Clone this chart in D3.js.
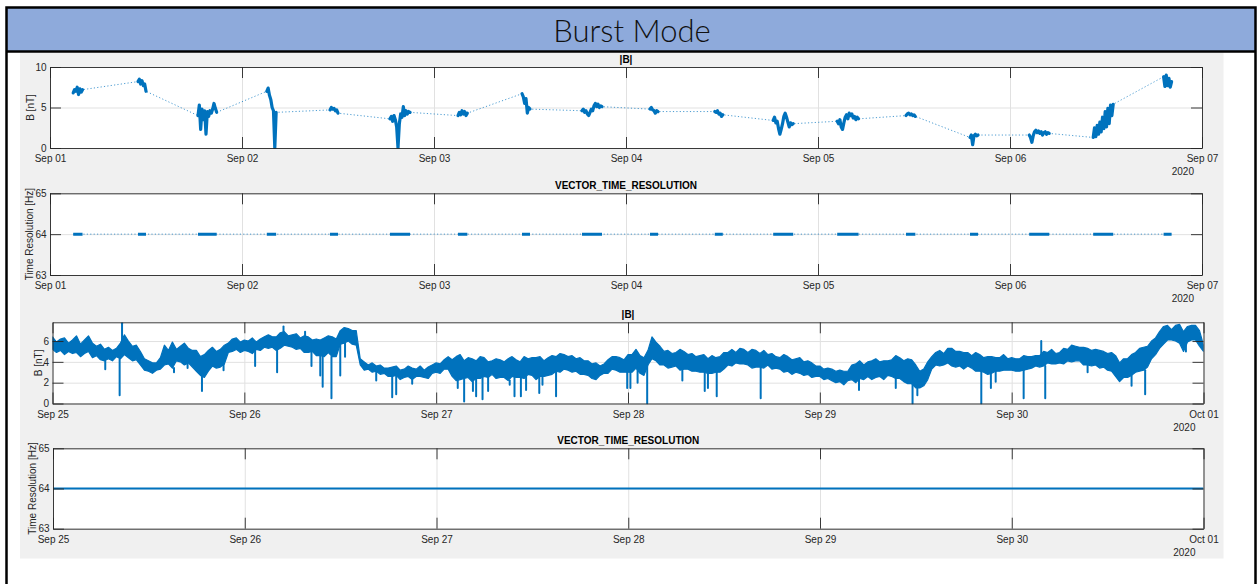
<!DOCTYPE html>
<html><head><meta charset="utf-8">
<script src="https://cdn.jsdelivr.net/npm/d3@7"></script>
<style>
body{margin:0;background:#fff;}
svg{display:block;}
text{font-family:"Liberation Sans",Arial,Helvetica,sans-serif;}
</style>
</head><body>
<svg id="c" width="1259" height="584"></svg>
<script>
// ---------------- DATA ----------------
const pageTitle = "Burst Mode";
const yearLabel = "2020";
const p1Days = ["2020-09-01","2020-09-02","2020-09-03","2020-09-04","2020-09-05","2020-09-06","2020-09-07"];
const p1TickLabels = ["Sep 01","Sep 02","Sep 03","Sep 04","Sep 05","Sep 06","Sep 07"];
const p3Days = ["2020-09-25","2020-09-26","2020-09-27","2020-09-28","2020-09-29","2020-09-30","2020-10-01"];
const p3TickLabels = ["Sep 25","Sep 26","Sep 27","Sep 28","Sep 29","Sep 30","Oct 01"];
const bTicks1 = [0, 5, 10];
const bTicks3 = [0, 2, 4, 6];
const rateTicks = [63, 64, 65];

// Panel 1: burst intervals (start in hours after Sep 01 00:00, samples every 10 min), |B| in nT
const burstStepMin = 10;
const burstStartHours = [2.9, 11.0, 18.5, 27.1, 35.0, 42.5, 51.0, 59.0, 66.5, 75.0, 83.1, 90.4, 98.4, 107.0, 115.0, 122.4, 130.4, 139.2];
const burstB = [
 [6.8, 7.2, 7.0, 7.5, 6.6, 7.3, 6.9, 7.2],
 [8.2, 8.5, 7.9, 8.3, 7.7, 7.9, 7.0],
 [4.0, 5.3, 2.3, 4.8, 3.5, 4.6, 1.7, 4.5, 3.9, 4.6, 4.3, 4.8, 5.5, 4.9, 4.4],
 [7.0, 7.4, 6.5, 6.0, 5.0, 4.6, 0.0, 4.4],
 [4.7, 5.0, 4.8, 4.9, 4.6, 4.7, 4.3],
 [3.6, 3.9, 3.3, 4.0, 3.5, 2.6, 0.0, 3.0, 4.2, 3.8, 5.1, 4.0, 4.6, 4.2, 4.5, 4.4],
 [4.0, 4.4, 4.1, 4.6, 4.2, 4.5, 4.0, 4.3],
 [6.7, 6.3, 5.5, 6.1, 4.3, 5.0, 4.8],
 [4.6, 4.8, 4.4, 4.6, 4.2, 4.0, 4.4, 4.8, 4.6, 5.2, 5.5, 5.1, 5.4, 5.0, 5.2, 5.1],
 [4.8, 5.0, 4.7, 4.6, 4.3, 4.6, 4.5],
 [4.5, 4.4, 4.6, 4.2, 4.3, 3.9, 4.1],
 [3.4, 3.8, 3.1, 3.3, 2.4, 1.7, 2.3, 3.0, 3.9, 4.3, 3.8, 3.2, 2.6, 3.1, 2.9, 3.0],
 [3.3, 3.0, 3.5, 2.6, 2.3, 3.1, 3.8, 4.1, 3.6, 4.3, 4.0, 4.2, 3.7, 3.9, 3.5, 3.8, 3.6],
 [4.0, 4.2, 4.3, 4.1, 4.2, 4.0, 4.1, 3.9],
 [1.3, 1.6, 0.4, 1.5, 1.7, 1.5, 1.6],
 [1.6, 1.3, 0.7, 1.5, 2.0, 2.2, 1.9, 2.1, 1.8, 2.0, 1.6, 1.9, 2.0, 1.7, 1.9, 1.8],
 [1.3, 2.5, 1.4, 2.8, 1.7, 3.2, 2.0, 3.8, 2.4, 4.5, 2.6, 4.9, 3.0, 5.3, 4.0, 5.4],
 [8.8, 7.6, 9.0, 7.7, 8.6, 7.5, 8.2]
];
// Panel 2: vector time resolution of each burst (Hz)
const burstRateHz = [64,64,64,64,64,64,64,64,64,64,64,64,64,64,64,64,64,64];

// Panel 3: continuous |B| envelope, samples every 30 min per day (upper / lower)
const bandStepMin = 30;
const hi25 = [6.4,5.9, 6.2,6.3, 5.8,6.1, 6.5,5.7, 6.1,6.5, 5.8,5.5, 5.7,5.2, 5.4,5.1, 5.3,5.8, 6.6,6.0, 5.5,5.6, 5.0,4.3, 4.1,3.9, 3.9,4.4, 5.6,5.1, 5.9,5.2, 5.5,5.8, 5.3,5.1, 5.1,4.5, 4.7,5.1, 5.4,5.0, 5.2,5.6, 5.8,6.2, 6.3,5.9];
const lo25 = [5.2,4.9, 5.1,4.7, 5.0,4.8, 4.9,4.5, 4.8,5.0, 4.4,4.6, 4.2,4.1, 4.3,4.1, 4.5,4.3, 4.7,4.4, 4.1,4.2, 3.7,3.2, 3.1,2.9, 3.2,3.3, 3.7,3.8, 3.4,4.1, 4.0,3.7, 3.9,3.5, 3.1,2.7, 2.5,3.1, 3.6,3.4, 3.5,3.8, 4.9,5.0, 5.2,4.9];
const hi26 = [6.1,6.0, 6.3,5.9, 6.2,6.4, 6.6,6.4, 6.4,6.8, 6.9,6.5, 6.6,6.7, 6.3,6.5, 6.4,6.1, 6.2,6.1, 6.3,6.5, 6.4,6.2, 7.0,7.3, 7.2,7.0, 7.0,4.3, 4.0,3.7, 3.9,3.6, 3.7,3.4, 3.4,3.5, 3.6,3.2, 3.3,3.6, 3.4,3.3, 3.6,3.2, 3.5,3.7];
const lo26 = [5.1,5.0, 4.8,5.2, 5.1,5.4, 5.3,5.4, 5.1,5.3, 5.6,5.5, 5.4,5.2, 5.3,4.9, 4.9,5.0, 4.6,4.6, 4.5,4.9, 4.5,4.5, 5.7,5.8, 6.0,5.7, 5.6,3.7, 3.2,3.3, 3.0,3.1, 2.8,2.9, 2.6,2.6, 2.7,2.3, 2.5,2.6, 2.3,2.6, 2.6,2.5, 2.4,2.9];
const hi27 = [3.9,3.8, 4.2,4.5, 4.2,4.5, 4.7,4.1, 4.4,4.3, 4.1,4.5, 4.4,4.0, 4.1,4.3, 4.2,4.0, 4.3,4.5, 4.2,4.0, 4.5,4.3, 4.4,4.4, 4.5,4.1, 4.4,4.6, 4.5,4.8, 4.7,4.5, 4.6,4.3, 4.4,4.1, 4.1,3.8, 3.9,3.6, 3.8,4.2, 4.5,4.5, 4.4,4.2];
const lo27 = [3.0,2.9, 3.3,3.3, 2.6,2.2, 2.3,2.4, 2.5,2.1, 2.4,2.4, 2.6,2.5, 2.8,2.4, 2.5,2.5, 2.2,2.6, 2.5,2.5, 2.4,2.8, 2.7,2.3, 2.6,2.6, 2.7,2.8, 3.1,3.0, 3.3,3.2, 3.0,3.1, 2.8,2.8, 2.7,2.4, 2.3,2.7, 2.9,2.9, 3.3,3.2, 3.0,3.0];
const hi28 = [4.7,4.7, 5.2,4.6, 4.4,5.1, 6.4,5.9, 5.5,5.0, 5.1,4.8, 4.9,5.2, 5.0,4.7, 4.8,4.5, 4.6,4.7, 4.3,4.6, 4.4,4.5, 4.9,4.9, 5.2,4.9, 5.3,5.2, 4.9,5.2, 5.1,4.8, 5.1,4.7, 4.8,4.5, 4.4,4.7, 4.5,4.2, 4.3,4.4, 4.0,4.1, 3.9,3.6];
const lo28 = [3.0,3.0, 3.4,2.9, 2.7,3.7, 4.3,4.1, 3.7,3.7, 3.4,3.5, 3.6,3.2, 3.3,3.3, 3.1,3.1, 3.0,3.0, 2.9,2.9, 3.0,3.0, 3.3,3.7, 3.6,3.9, 3.8,3.8, 3.7,3.4, 3.5,3.5, 3.4,3.7, 3.3,3.4, 3.3,3.0, 3.1,2.8, 3.0,2.9, 2.7,2.8, 2.5,2.6];
const hi29 = [3.6,3.3, 3.4,3.3, 3.1,3.2, 3.1,3.1, 3.7,3.8, 4.1,3.7, 4.0,4.1, 4.3,4.0, 4.1,4.1, 4.2,4.6, 4.4,4.1, 4.3,4.2, 3.7,3.1, 3.3,4.0, 4.5,4.9, 5.1,4.8, 5.3,5.3, 5.0,5.0, 4.9,4.9, 4.6,4.9, 4.7,4.4, 4.5,4.5, 4.4,4.4, 4.7,4.3];
const lo29 = [2.6,2.3, 2.4,2.2, 2.0,2.1, 1.8,2.2, 2.3,2.0, 2.4,2.3, 2.6,2.3, 2.5,2.6, 2.3,2.7, 2.6,2.4, 2.4,2.1, 1.9,1.9, 1.5,1.5, 1.7,2.3, 3.3,3.7, 3.6,3.7, 3.9,3.6, 3.5,3.6, 3.3,3.6, 3.4,3.1, 3.1,3.0, 2.8,2.9, 3.1,3.1, 3.2,3.2];
const hi30 = [4.4,4.3, 4.3,4.6, 4.5,4.5, 4.6,4.6, 5.0,4.9, 5.2,4.8, 4.9,5.3, 5.2,5.6, 5.5,5.4, 5.4,5.3, 5.1,5.2, 5.1,5.0, 4.8,4.9, 4.6,3.9, 4.3,4.3, 4.7,4.9, 5.3,5.4, 5.5,6.0, 6.3,6.9, 7.4,7.5, 7.1,7.5, 7.6,6.9, 7.4,7.5, 7.5,7.0, 5.6];
const lo30 = [3.2,3.1, 3.1,3.2, 3.3,3.4, 3.6,3.5, 3.6,3.9, 3.8,3.8, 3.9,3.8, 4.1,4.0, 4.1,4.1, 3.7,3.7, 3.6,3.7, 3.4,3.5, 3.2,3.1, 2.6,2.1, 2.5,2.5, 2.7,3.0, 3.1,3.2, 3.5,4.3, 4.7,5.3, 5.7,6.1, 6.1,6.0, 5.8,5.0, 5.9,6.1, 6.1,5.5, 5.0];
// Panel 3: short excursions (hours after Sep 25 00:00, |B| nT)
const spikeHours = [6.6, 8.4, 8.7, 15.2, 16.9, 18.7, 21.4,
  25.35, 28.1, 28.9, 31.6, 32.4, 33.5, 33.8, 34.9, 36.0, 36.6, 40.5, 42.5, 43.0, 45.0,
  50.7, 51.5, 52.6, 53.0, 53.8, 54.5, 57.2, 57.8, 58.6, 59.25, 60.9, 61.3, 63.0, 71.9,
  72.3, 73.2, 74.4, 78.8, 81.6, 82.0, 83.1, 88.6,
  100.9, 105.5, 107.6, 108.2, 116.2, 117.4, 118.0,
  121.5, 123.7, 124.2, 129.5, 135.0, 136.7, 141.8];
const spikeB = [3.3, 0.8, 7.7, 3.0, 3.4, 1.2, 3.2,
  3.6, 3.0, 7.4, 6.9, 3.6, 2.7, 1.6, 0.5, 2.7, 4.5, 2.2, 0.6, 0.9, 1.9,
  1.5, 0.2, 1.2, 0.7, 0.4, 1.2, 1.8, 0.7, 0.7, 1.3, 1.0, 1.8, 0.7, 1.5,
  1.5, 2.0, 0.0, 2.2, 1.2, 1.5, 0.7, 0.5,
  1.3, 1.5, 0.0, 0.8, 0.0, 1.5, 2.1,
  0.5, 6.0, 0.5, 3.0, 1.7, 0.9, 5.0];
// Panel 4: vector time resolution over the continuous interval
const rate4Times = ["2020-09-25","2020-10-01"];
const rate4Hz = [64, 64];

// ---------------- DRAWING ----------------
const svg = d3.select("#c");
const parseDay = d3.utcParse("%Y-%m-%d");
const BLUE = "#0072BD";
const AX = "#262626";
const FS = 10;

// figure background and slide frame
svg.append("rect").attr("x",20).attr("y",52.5).attr("width",1203.5).attr("height",506).attr("fill","#f0f0f0");
svg.append("rect").attr("x",6.5).attr("y",7.5).attr("width",1249).attr("height",44).attr("fill","#8eaadb");
const frame = svg.append("g").attr("stroke","#000").attr("stroke-width",2.5).attr("fill","none");
frame.append("path").attr("d","M6.5,600V7.5H1255.5V600");
frame.append("path").attr("d","M6.5,51.5H1255.5");
svg.append("text").attr("x",632).attr("y",41.5).attr("text-anchor","middle")
  .style("font-family","Lato, 'Open Sans', sans-serif").style("font-weight","300")
  .attr("font-size",31).attr("fill","#111").text(pageTitle);

let clipId = 0;
function panel(p){
  const g = svg.append("g");
  const x = d3.scaleUtc().domain(p.xDomain).range([p.x0,p.x1]);
  const y = d3.scaleLinear().domain(p.yDomain).range([p.y1,p.y0]);
  g.append("rect").attr("x",p.x0).attr("y",p.y0).attr("width",p.x1-p.x0).attr("height",p.y1-p.y0).attr("fill","#fff");
  // grid
  g.append("g").attr("transform",`translate(0,${p.y1})`)
    .call(d3.axisBottom(x).tickValues(p.xTicks).tickSize(-(p.y1-p.y0)).tickFormat(""))
    .call(s=>{s.select(".domain").remove(); s.selectAll("line").attr("stroke","#e1e1e1");});
  g.append("g").attr("transform",`translate(${p.x0},0)`)
    .call(d3.axisLeft(y).tickValues(p.yTicks).tickSize(-(p.x1-p.x0)).tickFormat(""))
    .call(s=>{s.select(".domain").remove(); s.selectAll("line").attr("stroke","#e1e1e1");});
  // data
  const id = "clip"+(clipId++);
  svg.append("clipPath").attr("id",id).append("rect")
    .attr("x",p.x0).attr("y",p.y0-1).attr("width",p.x1-p.x0).attr("height",p.y1-p.y0+2);
  const dg = g.append("g").attr("clip-path",`url(#${id})`);
  p.draw(dg, x, y);
  // axes (ticks inside, box)
  const styleAx = s => {
    s.select(".domain").attr("stroke",AX).attr("stroke-width",0.9);
    s.selectAll(".tick line").attr("stroke",AX).attr("stroke-width",0.9);
    s.selectAll("text").attr("fill",AX).attr("font-size",FS).style("font-family","'Liberation Sans',Arial,sans-serif");
  };
  g.append("g").attr("transform",`translate(0,${p.y1})`)
    .call(d3.axisBottom(x).tickValues(p.xTicks).tickFormat((d,i)=>p.xLabels[i]).tickSizeInner(-11).tickSizeOuter(0).tickPadding(7))
    .call(styleAx);
  g.append("g").attr("transform",`translate(0,${p.y0})`)
    .call(d3.axisTop(x).tickValues(p.xTicks).tickFormat("").tickSizeInner(-11).tickSizeOuter(0))
    .call(styleAx);
  g.append("g").attr("transform",`translate(${p.x0},0)`)
    .call(d3.axisLeft(y).tickValues(p.yTicks).tickFormat(d3.format("d")).tickSizeInner(-11).tickSizeOuter(0).tickPadding(3.5))
    .call(styleAx);
  g.append("g").attr("transform",`translate(${p.x1},0)`)
    .call(d3.axisRight(y).tickValues(p.yTicks).tickFormat("").tickSizeInner(-11).tickSizeOuter(0))
    .call(styleAx);
  // title, labels
  g.append("text").attr("x",(p.x0+p.x1)/2).attr("y",p.y0-4).attr("text-anchor","middle")
    .attr("font-size",FS).attr("font-weight","bold").attr("fill","#000").text(p.title);
  g.append("text").attr("transform",`translate(${p.ylx},${(p.y0+p.y1)/2}) rotate(-90)`)
    .attr("text-anchor","middle").attr("font-size",FS).attr("fill",AX).text(p.yLabel);
  g.append("text").attr("x",p.x1-8).attr("y",p.y1+27).attr("text-anchor","end")
    .attr("font-size",FS).attr("fill",AX).text(yearLabel);
}

// build panel-1 burst series
const p1Start = parseDay(p1Days[0]);
const bursts = burstB.map((vals,k)=>vals.map((v,i)=>({t:new Date(p1Start.getTime()+(burstStartHours[k]*60+i*burstStepMin)*60000), v})));
const allBurstPts = bursts.flat();

panel({x0:50,x1:1202,y0:67,y1:148, xDomain:[parseDay(p1Days[0]),parseDay(p1Days[6])],
  yDomain:[0,10], yTicks:bTicks1, xTicks:p1Days.map(parseDay), xLabels:p1TickLabels,
  title:"|B|", yLabel:"B [nT]", ylx:33.5,
  draw:(g,x,y)=>{
    const line = d3.line().x(d=>x(d.t)).y(d=>y(d.v));
    g.append("path").attr("d",line(allBurstPts)).attr("fill","none").attr("stroke",BLUE)
      .attr("stroke-width",1).attr("stroke-dasharray","1.2 2.2").attr("opacity",0.7);
    bursts.forEach(b=>g.append("path").attr("d",line(b)).attr("fill","none").attr("stroke",BLUE)
      .attr("stroke-width",3.2).attr("stroke-linejoin","round").attr("stroke-linecap","round"));
  }});

const rateSegs = bursts.map((b,k)=>[{t:b[0].t, v:burstRateHz[k]},{t:b[b.length-1].t, v:burstRateHz[k]}]);
panel({x0:50,x1:1202,y0:193.3,y1:275, xDomain:[parseDay(p1Days[0]),parseDay(p1Days[6])],
  yDomain:[63,65], yTicks:rateTicks, xTicks:p1Days.map(parseDay), xLabels:p1TickLabels,
  title:"VECTOR_TIME_RESOLUTION", yLabel:"Time Resolution [Hz]", ylx:33,
  draw:(g,x,y)=>{
    const line = d3.line().x(d=>x(d.t)).y(d=>y(d.v));
    g.append("path").attr("d",line(rateSegs.flat())).attr("fill","none").attr("stroke",BLUE)
      .attr("stroke-width",1).attr("stroke-dasharray","1.2 2.2").attr("opacity",0.7);
    rateSegs.forEach(s=>g.append("path").attr("d",line(s)).attr("fill","none").attr("stroke",BLUE)
      .attr("stroke-width",3));
  }});

// panel 3 band
const p3Start = parseDay(p3Days[0]);
const his = [hi25,hi26,hi27,hi28,hi29,hi30], los = [lo25,lo26,lo27,lo28,lo29,lo30];
const band = [];
his.forEach((h,d)=>h.forEach((v,i)=>band.push({t:new Date(p3Start.getTime()+(d*1440+i*bandStepMin)*60000), hi:v, lo:los[d][i]})));
const spikes = spikeHours.map((h,i)=>{
  const t = new Date(p3Start.getTime()+h*3600000);
  const near = band[Math.min(band.length-1, Math.round(h*60/bandStepMin))];
  const base = spikeB[i] > near.hi ? near.hi : (spikeB[i] < near.lo ? near.lo : (near.hi+near.lo)/2);
  return [{t, v:base},{t, v:spikeB[i]}];
});
panel({x0:52.5,x1:1203.5,y0:322.3,y1:403.5, xDomain:[parseDay(p3Days[0]),parseDay(p3Days[6])],
  yDomain:[0,7.8], yTicks:bTicks3, xTicks:p3Days.map(parseDay), xLabels:p3TickLabels,
  title:"|B|", yLabel:"B [nT]", ylx:42,
  draw:(g,x,y)=>{
    const area = d3.area().x(d=>x(d.t)).y0(d=>y(d.lo)).y1(d=>y(d.hi));
    g.append("path").attr("d",area(band)).attr("fill",BLUE).attr("stroke",BLUE)
      .attr("stroke-width",1.2).attr("stroke-linejoin","round");
    const line = d3.line().x(d=>x(d.t)).y(d=>y(d.v));
    spikes.forEach(s=>g.append("path").attr("d",line(s)).attr("fill","none").attr("stroke",BLUE)
      .attr("stroke-width",2).attr("stroke-linecap","round"));
  }});

const rate4 = rate4Times.map((t,i)=>({t:parseDay(t), v:rate4Hz[i]}));
panel({x0:53,x1:1203.5,y0:448.3,y1:528.7, xDomain:[parseDay(p3Days[0]),parseDay(p3Days[6])],
  yDomain:[63,65], yTicks:rateTicks, xTicks:p3Days.map(parseDay), xLabels:p3TickLabels,
  title:"VECTOR_TIME_RESOLUTION", yLabel:"Time Resolution [Hz]", ylx:35.5,
  draw:(g,x,y)=>{
    const line = d3.line().x(d=>x(d.t)).y(d=>y(d.v));
    g.append("path").attr("d",line(rate4)).attr("fill","none").attr("stroke",BLUE).attr("stroke-width",2);
  }});
</script>
</body></html>
